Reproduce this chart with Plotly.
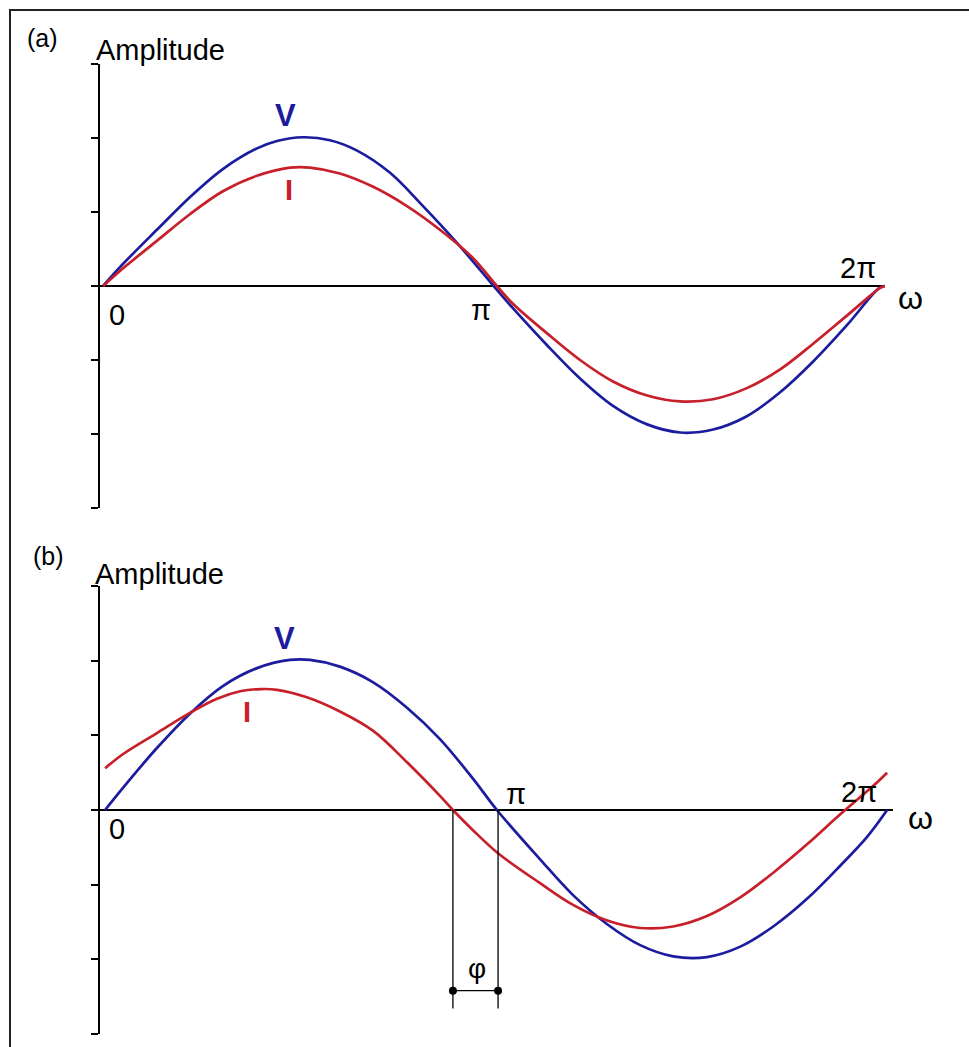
import plotly.graph_objects as go

# Phase angle in units of pi, amplitude in axis-tick units
# (a) voltage and current in phase
a_x_v = [0.008, 0.059, 0.145, 0.229, 0.313, 0.400, 0.451, 0.517, 0.586, 0.655, 0.739, 0.823,
         0.910, 1.003, 1.052, 1.139, 1.223, 1.307, 1.394, 1.478, 1.562, 1.648, 1.732, 1.817,
         1.903, 1.987, 2.000]
a_v = [0.00, 0.30, 0.76, 1.20, 1.58, 1.86, 1.96, 2.01, 1.97, 1.83, 1.53, 1.08,
       0.58, 0.00, -0.30, -0.80, -1.25, -1.62, -1.87, -1.98, -1.94, -1.76, -1.44, -1.02,
       -0.53, -0.02, 0.00]
a_x_i = [0.008, 0.059, 0.145, 0.229, 0.313, 0.400, 0.484, 0.535, 0.611, 0.696, 0.782, 0.866,
         0.950, 1.011, 1.052, 1.139, 1.223, 1.307, 1.394, 1.478, 1.562, 1.648, 1.732, 1.817,
         1.903, 1.987, 2.000]
a_i = [0.00, 0.24, 0.61, 0.97, 1.28, 1.49, 1.60, 1.60, 1.52, 1.34, 1.08, 0.76,
       0.38, 0.00, -0.24, -0.64, -1.00, -1.29, -1.48, -1.56, -1.53, -1.38, -1.13, -0.78,
       -0.40, -0.03, 0.00]

# (b) current leading the voltage by phi
b_x_v = [0.013, 0.059, 0.145, 0.229, 0.313, 0.400, 0.484, 0.535, 0.611, 0.696, 0.782, 0.866,
         0.950, 1.011, 1.121, 1.205, 1.292, 1.376, 1.460, 1.546, 1.631, 1.715, 1.801, 1.885,
         1.954, 2.005]
b_v = [0.00, 0.30, 0.83, 1.29, 1.66, 1.90, 2.01, 2.01, 1.92, 1.71, 1.37, 0.95,
       0.42, 0.00, -0.66, -1.14, -1.53, -1.81, -1.96, -1.97, -1.83, -1.56, -1.19, -0.75,
       -0.36, 0.00]
b_x_i = [0.013, 0.059, 0.145, 0.229, 0.298, 0.357, 0.410, 0.451, 0.527, 0.611, 0.696, 0.782,
         0.866, 0.899, 0.950, 1.014, 1.121, 1.205, 1.292, 1.376, 1.460, 1.546, 1.631, 1.715,
         1.801, 1.885, 1.969, 2.005]
b_i = [0.56, 0.75, 1.03, 1.30, 1.49, 1.59, 1.62, 1.61, 1.51, 1.32, 1.06, 0.64,
       0.19, 0.00, -0.27, -0.58, -0.98, -1.27, -1.48, -1.58, -1.56, -1.42, -1.17, -0.84,
       -0.46, -0.06, 0.32, 0.50]

# zero crossings of I and V in (b), bounding the phase shift
phi_bounds = [0.899, 1.014]
phi_marker_y = -2.42
phi_line_bottom = -2.66

amp_ticks = [-3, -2, -1, 0, 1, 2, 3]

W, H = 969, 1047
BLUE = "#1c1c9e"
RED = "#c8202a"
FONT = "Liberation Sans, Arial, sans-serif"


def px(x):
    return x / W


def py(y):
    return 1 - y / H


fig = go.Figure()

for xs, ys, color, xa, ya in [
    (a_x_v, a_v, BLUE, "x", "y"),
    (a_x_i, a_i, RED, "x", "y"),
    (b_x_v, b_v, BLUE, "x2", "y2"),
    (b_x_i, b_i, RED, "x2", "y2"),
]:
    fig.add_trace(go.Scatter(
        x=xs, y=ys, mode="lines", xaxis=xa, yaxis=ya,
        line=dict(color=color, width=2.7, shape="spline", smoothing=1.0),
        hoverinfo="skip", showlegend=False,
    ))

# phase-shift bracket
for xv in phi_bounds:
    fig.add_trace(go.Scatter(
        x=[xv, xv], y=[0, phi_line_bottom], mode="lines", xaxis="x2", yaxis="y2",
        line=dict(color="black", width=1.3), hoverinfo="skip", showlegend=False,
    ))
fig.add_trace(go.Scatter(
    x=phi_bounds, y=[phi_marker_y, phi_marker_y], mode="lines+markers",
    xaxis="x2", yaxis="y2",
    line=dict(color="black", width=1.3),
    marker=dict(color="black", size=8),
    hoverinfo="skip", showlegend=False,
))

yax = dict(
    range=[-3, 3], tickvals=amp_ticks, showticklabels=False,
    ticks="outside", ticklen=7, tickwidth=1.5, tickcolor="black",
    showline=True, linecolor="black", linewidth=1.5,
    showgrid=False, zeroline=True, zerolinecolor="black", zerolinewidth=1.5,
    fixedrange=True,
)
xax = dict(showline=False, showgrid=False, zeroline=False, showticklabels=False,
           ticks="", fixedrange=True)

fig.update_layout(
    width=W, height=H,
    margin=dict(l=0, r=0, t=0, b=0),
    paper_bgcolor="white", plot_bgcolor="rgba(0,0,0,0)",
    xaxis=dict(xax, domain=[px(100), px(885)], range=[0, 2.0], anchor="y"),
    yaxis=dict(yax, domain=[py(508), py(64)], anchor="x"),
    xaxis2=dict(xax, domain=[px(100), px(893)], range=[0, 2.02], anchor="y2"),
    yaxis2=dict(yax, domain=[py(1034), py(586)], anchor="x2"),
    showlegend=False,
)

# outer frame
fig.add_shape(type="rect", xref="paper", yref="paper",
              x0=px(10), x1=px(W + 10), y0=py(H + 10), y1=py(10),
              line=dict(color="#222222", width=2), layer="below")


def label(x, y, text, size=29, color="black", bold=False):
    fig.add_annotation(
        x=px(x), y=py(y), xref="paper", yref="paper", text=f"<b>{text}</b>" if bold else text,
        showarrow=False, xanchor="center", yanchor="middle",
        font=dict(family=FONT, size=size, color=color),
    )


# panel (a)
label(42, 38, "(a)", size=25)
label(160, 50, "Amplitude", size=29)
label(285, 116, "V", size=31, color=BLUE, bold=True)
label(289, 190, "I", size=29, color=RED, bold=True)
label(117, 315, "0")
label(481, 310, "π")
label(858, 268, "2π")
label(910, 298, "ω", size=32)

# panel (b)
label(48, 556, "(b)", size=25)
label(159, 574, "Amplitude", size=29)
label(284, 638, "V", size=31, color=BLUE, bold=True)
label(247, 712, "I", size=29, color=RED, bold=True)
label(117, 829, "0")
label(516, 794, "π")
label(859, 792, "2π")
label(920, 818, "ω", size=32)
label(477, 968, "φ", size=28)

fig.write_html("out.html")
